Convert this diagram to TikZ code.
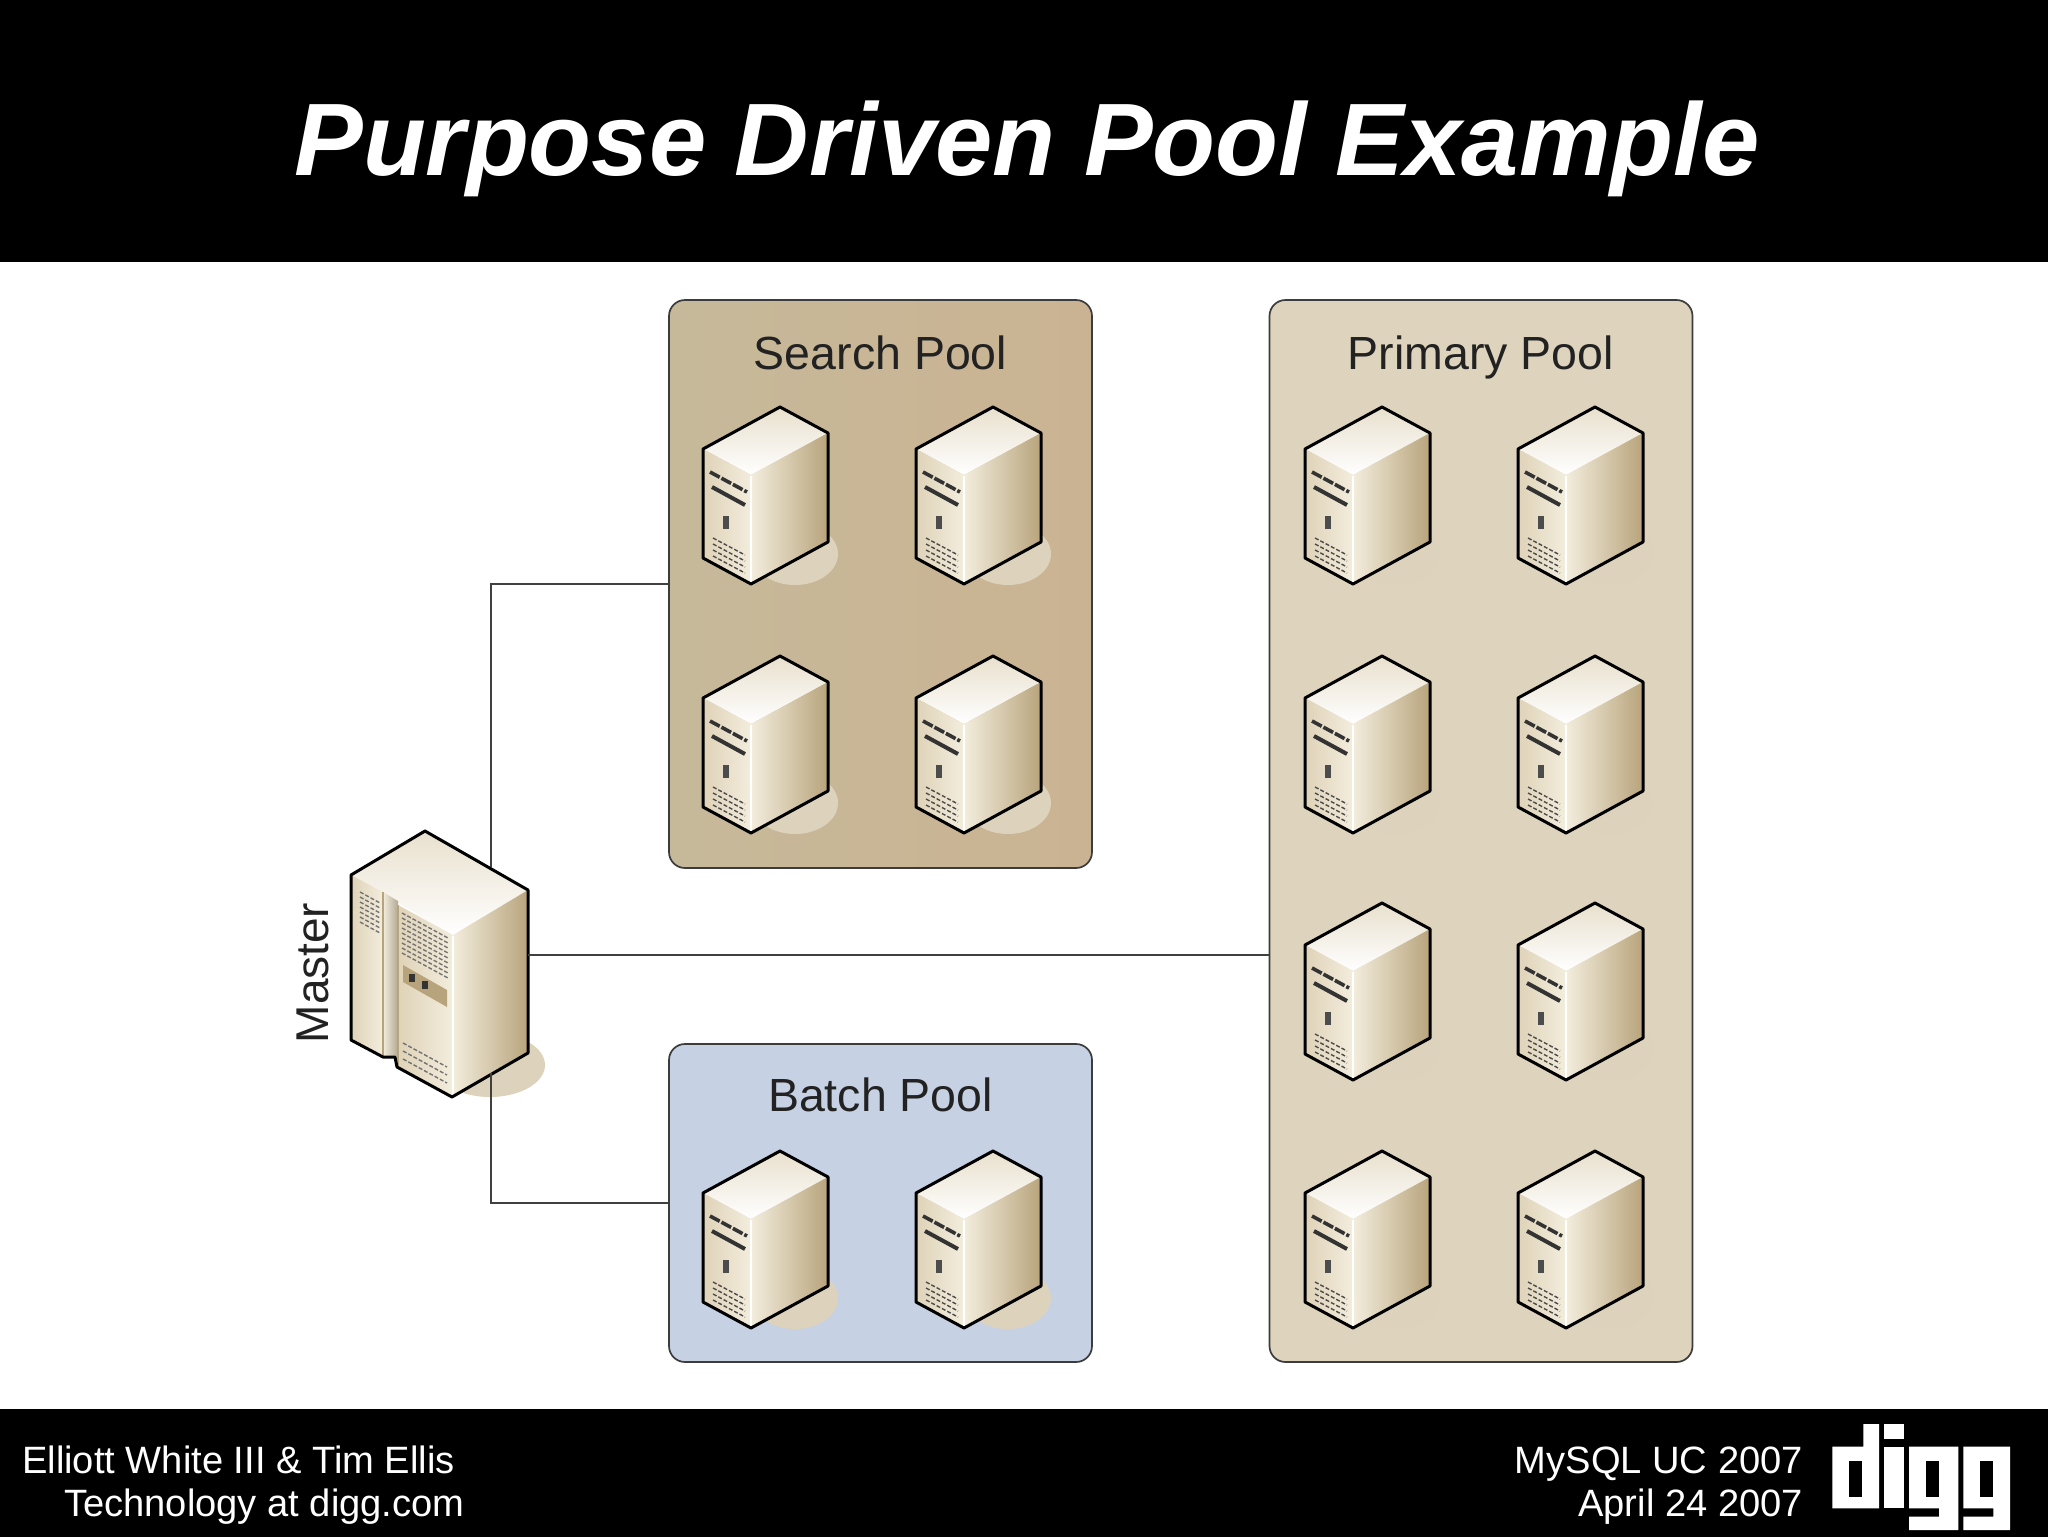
\documentclass[tikz,border=0pt]{standalone}
\usepackage{fontspec}
\setmainfont{Liberation Sans}
\definecolor{searchleft}{HTML}{C6B99A}
\definecolor{searchright}{HTML}{CAB392}
\definecolor{primaryfill}{HTML}{DED3BC}
\definecolor{batchfill}{HTML}{C6D1E3}
\definecolor{poolline}{HTML}{3C3C3C}
\definecolor{shadowtan}{HTML}{DDD2BB}
\definecolor{titledark}{HTML}{222222}
\definecolor{serverlight}{HTML}{F3EDDD}
\definecolor{servermid}{HTML}{DFD3B8}
\definecolor{serverdark}{HTML}{B8A47C}
\tikzset{
    pool/.style={draw=poolline, line width=1.7pt, rounded corners=16pt, inner sep=0pt, minimum width=423pt},
    pooltitle/.style={text=titledark, anchor=base, inner sep=0pt, font=\fontsize{46.5}{50}\selectfont},
    footertext/.style={text=white, inner sep=0pt, font=\fontsize{38.1}{42}\selectfont},
    link/.style={draw=black!75, line width=1.6pt},
    outline/.style={draw=black, line width=3pt, line join=round},
    vent/.style={draw=black!70, line width=1.4pt, dash pattern=on 4pt off 2pt},
    server/.pic={
        % shadow, faces, then the black outline
        \fill[shadowtan] (15,147) ellipse [x radius=43pt, y radius=31pt];
        \path[top color=servermid!70!white, bottom color=white]
            (0,0) -- (48,26) -- (-29,68) -- (-77,42) -- cycle;
        \path[left color=servermid, right color=serverlight]
            (-77,42) -- (-29,68) -- (-29,177) -- (-77,151) -- cycle;
        \path[left color=serverlight, middle color=servermid, right color=serverdark]
            (-29,68) -- (48,26) -- (48,135) -- (-29,177) -- cycle;
        \draw[white, line width=1.5pt] (-29,69) -- (-29,176);
        % slots, button and vents of the front
        \draw[black!80, line width=3.6pt, dash pattern=on 11pt off 2pt] (-70,65) -- (-33,85);
        \draw[black!80, line width=4pt] (-68,80) -- (-35,98);
        \fill[black!70] (-57,109) rectangle (-51,122);
        \foreach \v in {0,6,12,18}
            \draw[vent] (-67,131+\v) -- (-35,148+\v);
        \draw[outline] (0,0) -- (48,26) -- (48,135) -- (-29,177) -- (-77,151) -- (-77,42) -- cycle;
    },
    masterbox/.pic={
        \fill[shadowtan] (65,234) ellipse [x radius=55pt, y radius=32pt];
        \path[top color=servermid!70!white, bottom color=white]
            (0,0) -- (103,59) -- (28,104) -- (-74,44) -- cycle;
        \path[left color=servermid, right color=serverlight]
            (-74,44) -- (-42,61) -- (-42,226) -- (-74,209) -- cycle;
        \path[left color=serverlight, right color=servermid!80!black]
            (-42,61) -- (-27,70) -- (-27,236) -- (-30,226) -- (-42,226) -- cycle;
        \path[left color=servermid, right color=serverlight]
            (-27,74) -- (28,104) -- (28,266) -- (-27,236) -- cycle;
        \path[left color=serverlight, middle color=servermid, right color=serverdark]
            (28,104) -- (103,59) -- (103,222) -- (28,266) -- cycle;
        \draw[white, line width=1.5pt] (28,105) -- (28,265);
        \draw[serverdark, line width=1.2pt] (-42,61) -- (-42,226) (-27,74) -- (-27,236);
        % vents of the left panel and of the door
        \foreach \v in {0,5,...,30}
            \draw[vent, draw=black!55] (-65,61+\v) -- (-45,72+\v);
        \foreach \v in {0,5,...,40}
            \draw[vent, draw=black!55] (-23,82+\v) -- (23,107+\v);
        \foreach \v in {0,8,16}
            \draw[vent, draw=black!55] (-22,212+\v) -- (22,236+\v);
        % control panel
        \fill[serverdark] (-22,134) -- (22,159) -- (22,176) -- (-22,151) -- cycle;
        \fill[black!80] (-16,143) rectangle (-10,151);
        \fill[black!80] (-3,150) rectangle (3,158);
        \draw[outline] (0,0) -- (103,59) -- (103,222) -- (27,266) -- (-28,236) -- (-30,226) -- (-42,226) -- (-74,209) -- (-74,44) -- cycle;
    },
}
\begin{document}
\begin{tikzpicture}[x=1pt,y=-1pt]
    \useasboundingbox (0,0) rectangle (2048,1537);

    % Header and footer bars
    \fill[white] (0,0) rectangle (2048,1537);
    \fill[black] (0,0) rectangle (2048,262);
    \fill[black] (0,1409) rectangle (2048,1537);

    % Title and footer texts
    \node[anchor=base, text=white, inner sep=0pt, font=\fontsize{103}{107}\selectfont\bfseries\itshape] (title) at (1027,175) {Purpose Driven Pool Example};
    \node[footertext, anchor=base west] (authors) at (22,1473) {Elliott White III \& Tim Ellis};
    \node[footertext, anchor=base west] (company) at (64,1516) {Technology at digg.com};
    \node[footertext, anchor=base east] (event) at (1803,1473) {MySQL UC 2007};
    \node[footertext, anchor=base east] (eventdate) at (1803,1516) {April 24 2007};

    % Logo
    \begin{scope}[shift={(1780,1400)},x=0.3333pt,y=-0.3333pt]
        \fill[white] (157,140) -- (250,140) -- (250,72) -- (297,72) -- (297,325) -- (157,325) -- cycle;
        \fill[black] (207,183) rectangle (247,290);
        \fill[white] (312,72) rectangle (372,118);
        \fill[white] (312,140) rectangle (372,325);
        \fill[white] (387,140) -- (535,140) -- (535,390) -- (387,390) -- (387,350) -- (477,350) -- (477,325) -- (387,325) -- cycle;
        \fill[black] (437,183) rectangle (477,290);
        \fill[white] (550,140) -- (690,140) -- (690,390) -- (550,390) -- (550,350) -- (640,350) -- (640,325) -- (550,325) -- cycle;
        \fill[black] (600,183) rectangle (640,290);
    \end{scope}

    % Pools
    \node[pool, left color=searchleft, right color=searchright, minimum height=568pt] (searchpool) at (880.5,584) {};
    \node[pool, fill=primaryfill, minimum height=1062pt] (primarypool) at (1481,831) {};
    \node[pool, fill=batchfill, minimum height=318pt] (batchpool) at (880.5,1203) {};
    \node[pooltitle] (searchtitle) at (880.5,369) {Search Pool};
    \node[pooltitle] (primarytitle) at (1481,369) {Primary Pool};
    \node[pooltitle] (batchtitle) at (880.5,1111) {Batch Pool};

    % Servers
    \foreach \x in {780,993}
        \foreach \y in {407,656}
            \pic (search\x\y) at (\x,\y) {server};
    \foreach \x in {780,993}
        \pic (batch\x) at (\x,1151) {server};
    \foreach \x in {1382,1595}
        \foreach \y in {407,656,903,1151}
            \pic (primary\x\y) at (\x,\y) {server};

    % Master
    \pic (master) at (425,831) {masterbox};
    \node[rotate=90, text=titledark, inner sep=0pt, font=\fontsize{46}{50}\selectfont] (mastertitle) at (313,973) {Master};
    \coordinate (mastertop) at (491,867);
    \coordinate (masterright) at (528,955);
    \coordinate (masterbottom) at (491,1073);

    % Connectors
    \draw[link] (mastertop) |- (searchpool.west);
    \draw[link] (masterright) -- (masterright -| primarypool.west);
    \draw[link] (masterbottom) |- (batchpool.west);
\end{tikzpicture}
\end{document}
